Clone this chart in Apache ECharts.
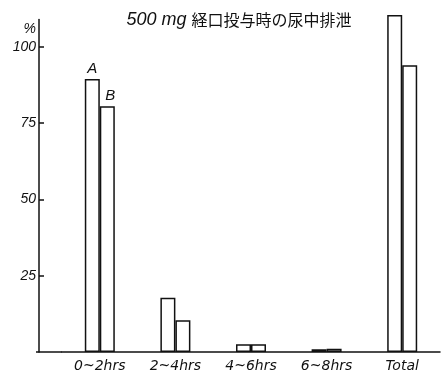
<!DOCTYPE html>
<html>
<head>
<meta charset="utf-8">
<script src="https://cdn.jsdelivr.net/npm/echarts@6/dist/echarts.min.js"></script>
<style>html,body{margin:0;padding:0;background:#fff}#c{width:441px;height:376px}</style>
</head>
<body>
<div id="c"></div>
<script>
var categories = ['0~2hrs', '2~4hrs', '4~6hrs', '6~8hrs', 'Total'];
var seriesA = [89.5, 17.8, 2.5, 0.9, 110.5];
var seriesB = [80.6, 10.4, 2.5, 1.1, 94];
var seriesNames = ['A', 'B'];
var yTicks = [25, 50, 75, 100];

var chart = echarts.init(document.getElementById('c'), null, {renderer: 'canvas'});
var italic = {fontFamily: 'Liberation Sans', fontStyle: 'italic', color: '#111'};

function makeData(arr, name) {
  return arr.map(function (v, i) {
    if (i === 0) {
      return {value: v, label: {show: true, position: 'top', formatter: name, distance: 3,
        fontFamily: 'Liberation Sans', fontStyle: 'italic', fontSize: 15, color: '#111',
        offset: name === 'B' ? [3, 0] : [0, 0]}};
    }
    return v;
  });
}

var barStyle = {color: '#fff', borderColor: '#111', borderWidth: 1.5};

chart.setOption({
  animation: false,
  backgroundColor: '#fff',
  title: {
    text: '{a|500 mg }{b|経口投与時の尿中排泄}',
    left: 234, top: 6, textAlign: 'center',
    textStyle: {
      fontWeight: 'normal',
      rich: {
        a: {fontFamily: 'Liberation Sans', fontStyle: 'italic', fontWeight: 'normal', fontSize: 18, color: '#111'},
        b: {fontFamily: 'Noto Sans CJK JP', fontWeight: 'normal', fontSize: 16, color: '#111'}
      }
    }
  },
  grid: {left: 62, right: 1, top: 19.5, bottom: 24, containLabel: false},
  xAxis: {
    type: 'category',
    data: categories,
    axisLine: {lineStyle: {color: '#111', width: 1.5}},
    axisTick: {show: false},
    axisLabel: {fontSize: 14, margin: 7, fontFamily: 'DejaVu Sans', fontStyle: 'italic', color: '#111'}
  },
  yAxis: {
    type: 'value',
    min: 0, max: 109, interval: 25,
    offset: 23,
    name: '%',
    nameLocation: 'end',
    nameGap: -3,
    nameTextStyle: Object.assign({}, italic, {fontSize: 14, align: 'right', verticalAlign: 'top', padding: [0, 3, 0, 0]}),
    axisLine: {show: true, lineStyle: {color: '#111', width: 1.5}},
    axisTick: {show: true, inside: true, length: 5, lineStyle: {color: '#111', width: 1.5},
      customValues: yTicks},
    axisLabel: Object.assign({}, italic, {fontSize: 14, margin: 3,
      customValues: yTicks,
      formatter: function (v) { return yTicks.indexOf(v) >= 0 ? String(v) : ''; }}),
    splitLine: {show: false}
  },
  graphic: [{
    type: 'line', shape: {x1: 36, y1: 352, x2: 62, y2: 352},
    style: {stroke: '#111', lineWidth: 1.5}
  }],
  series: [
    {type: 'bar', name: seriesNames[0], data: makeData(seriesA, seriesNames[0]), barWidth: 15, barGap: '0%',
      itemStyle: barStyle, clip: false},
    {type: 'bar', name: seriesNames[1], data: makeData(seriesB, seriesNames[1]), barWidth: 15, barGap: '0%',
      itemStyle: barStyle, clip: false}
  ]
});
</script>
</body>
</html>
